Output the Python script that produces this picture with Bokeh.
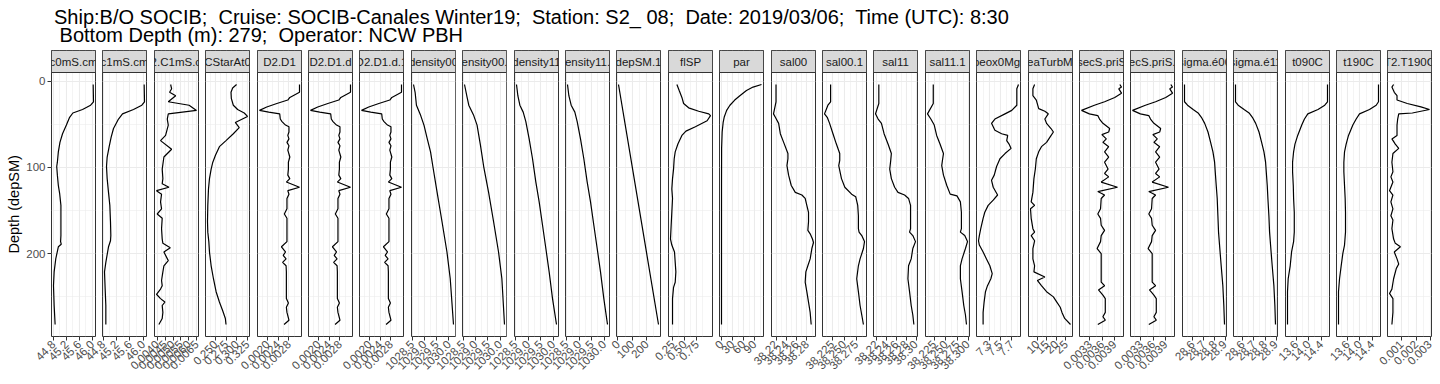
import math
from bokeh.plotting import figure
from bokeh.models import Range1d, FixedTicker, PrintfTickFormatter, Div
from bokeh.layouts import row, column
from bokeh.core.properties import value
from bokeh.embed import file_html
from bokeh.resources import INLINE

# ---------------------------------------------------------------- texts
TITLE_LINE1 = "Ship:B/O SOCIB;  Cruise: SOCIB-Canales Winter19;  Station: S2_ 08;  Date: 2019/03/06;  Time (UTC): 8:30"
TITLE_LINE2 = " Bottom Depth (m): 279;  Operator: NCW PBH"
Y_LABEL = "Depth (depSM)"

# ---------------------------------------------------------------- data (depth in m, values per variable)
depth_c0 = [4, 24, 28, 33, 37, 42, 51, 61, 71, 82, 94, 99, 109, 121, 130, 144, 163, 179, 186, 189, 192, 206, 221, 237, 260, 282]
c0mS_cm = [46.03, 46.04, 45.95, 45.70, 45.40, 45.30, 45.20, 45.08, 45.00, 44.95, 44.92, 44.90, 44.92, 44.95, 44.99, 45.03,
           45.03, 45.03, 45.02, 45.04, 44.95, 44.87, 44.82, 44.80, 44.82, 44.85]

depth_c1 = [4, 24, 28, 33, 38, 44, 55, 65, 76, 88, 99, 113, 129, 144, 163, 179, 185, 192, 210, 221, 241, 260, 282]
c1mS_cm = [46.03, 46.04, 45.96, 45.71, 45.38, 45.26, 45.11, 45.04, 44.98, 44.92, 44.90, 44.92, 44.96, 45.00, 45.02, 45.03,
           45.02, 44.96, 44.88, 44.84, 44.86, 44.88, 44.88]

depth_c2c1 = [4, 9, 13, 17, 24, 28, 34, 38, 44, 51, 63, 69, 79, 88, 102, 113, 119, 123, 127, 131, 140, 148, 154, 159, 171,
              183, 188, 193, 198, 208, 214, 221, 231, 237, 241, 247, 252, 256, 260, 268, 275, 282]
C2_C1mS_cm = [0.004848, 0.004912, 0.004784, 0.005167, 0.004700, 0.006015, 0.006482, 0.004700, 0.004636, 0.004700,
              0.004530, 0.004211, 0.004912, 0.004423, 0.004317, 0.004359, 0.004317, 0.004742, 0.003956, 0.004275,
              0.004211, 0.004275, 0.004000, 0.004317, 0.004275, 0.004317, 0.004359, 0.004826, 0.004423, 0.004700,
              0.004423, 0.004359, 0.004275, 0.004317, 0.004211, 0.003956, 0.004211, 0.004486, 0.004317, 0.004359,
              0.004317, 0.004105]

depth_cstar = [4, 8, 13, 20, 28, 33, 37, 41, 48, 54, 61, 69, 76, 86, 94, 102, 113, 125, 144, 163, 175, 186, 198, 214, 229,
               244, 256, 266, 275, 282]
CStarAt0 = [0.2994, 0.2902, 0.2864, 0.2871, 0.2918, 0.3018, 0.3173, 0.3249, 0.2964, 0.3056, 0.2918, 0.2747, 0.2593,
            0.2501, 0.2439, 0.2400, 0.2361, 0.2338, 0.2322, 0.2315, 0.2322, 0.2346, 0.2361, 0.2400, 0.2454, 0.2516,
            0.2593, 0.2670, 0.2732, 0.2747]

depth_d2d1 = [4, 13, 19, 22, 26, 30, 34, 36, 38, 44, 47, 51, 53, 59, 63, 67, 71, 75, 80, 88, 94, 102, 109, 113, 117, 123,
              127, 131, 136, 148, 154, 159, 175, 186, 192, 198, 202, 206, 210, 214, 221, 241, 252, 257, 262, 268, 277, 282]
D2_D1 = [0.003196, 0.003196, 0.002833, 0.002757, 0.002345, 0.001966, 0.001694, 0.002041, 0.002453, 0.002475, 0.002540,
         0.002670, 0.002800, 0.002800, 0.002757, 0.002800, 0.002725, 0.002800, 0.002757, 0.002833, 0.002779, 0.002779,
         0.002757, 0.002833, 0.002703, 0.003196, 0.002757, 0.002800, 0.002725, 0.002725, 0.002627, 0.002725, 0.002725,
         0.002725, 0.002518, 0.002670, 0.002584, 0.002692, 0.002562, 0.002692, 0.002703, 0.002703, 0.002703, 0.002779,
         0.002703, 0.002725, 0.002800, 0.002617]

depth_dens00 = [4, 13, 28, 40, 51, 67, 82, 99, 129, 163, 198, 229, 282]
density00 = [1028.555, 1028.621, 1028.675, 1028.849, 1028.982, 1029.117, 1029.250, 1029.345, 1029.518, 1029.718,
             1029.919, 1030.053, 1030.186]
depth_dens00_1 = [4, 19, 28, 40, 51, 74, 99, 129, 163, 198, 229, 282]
density00_1 = [1028.555, 1028.661, 1028.728, 1028.929, 1029.063, 1029.198, 1029.331, 1029.530, 1029.732, 1029.932,
               1030.067, 1030.173]
depth_dens11 = [4, 17, 28, 36, 47, 67, 90, 117, 140, 167, 194, 221, 252, 282]
density11 = [1028.538, 1028.592, 1028.672, 1028.804, 1028.909, 1029.041, 1029.175, 1029.307, 1029.439, 1029.573,
             1029.705, 1029.836, 1029.970, 1030.128]
density11_1 = [1028.538, 1028.592, 1028.684, 1028.830, 1028.923, 1029.055, 1029.187, 1029.321, 1029.453, 1029.585,
               1029.718, 1029.850, 1029.982, 1030.128]

depth_depsm = [4, 100, 200, 282]
depSM_1 = [4, 100, 200, 282]

depth_flsp = [4, 11, 19, 26, 31, 35, 38, 40, 46, 53, 58, 63, 73, 82, 90, 102, 113, 125, 136, 152, 167, 183, 190, 198, 210,
              221, 233, 239, 252, 282]
flSP = [0.3364, 0.3848, 0.4404, 0.4759, 0.5797, 0.7884, 0.9970, 1.0325, 0.9624, 0.7191, 0.5242, 0.4404, 0.3575, 0.3019,
        0.2809, 0.2673, 0.2463, 0.2317, 0.2463, 0.2317, 0.2181, 0.2044, 0.2317, 0.2873, 0.3019, 0.3155, 0.3019, 0.2673,
        0.2463, 0.2463]

depth_par = [4, 7, 11, 17, 22, 28, 34, 42, 48, 59, 78, 120, 282]
par = [109, 86, 68, 50, 36, 23, 14, 7.3, 4.5, 1.8, 0.3, 0.05, 0.0]

depth_sal00 = [4, 24, 38, 42, 49, 61, 71, 84, 90, 98, 109, 121, 129, 132, 136, 144, 152, 163, 173, 177, 183, 187, 194, 206,
               214, 221, 233, 244, 256, 268, 282]
sal00 = [38.2199, 38.2199, 38.2150, 38.2186, 38.2250, 38.2283, 38.2348, 38.2431, 38.2431, 38.2412, 38.2444, 38.2496,
         38.2574, 38.2703, 38.2767, 38.2799, 38.2832, 38.2832, 38.2819, 38.2864, 38.2909, 38.2929, 38.2897, 38.2864,
         38.2819, 38.2780, 38.2767, 38.2799, 38.2832, 38.2864, 38.2884]

depth_sal00_1 = [4, 24, 28, 38, 42, 49, 61, 73, 84, 92, 98, 113, 123, 131, 134, 144, 156, 171, 175, 179, 186, 194, 206, 214,
                 229, 244, 260, 271, 282]
sal00_1 = [38.2215, 38.2215, 38.2159, 38.2088, 38.2145, 38.2194, 38.2264, 38.2335, 38.2405, 38.2405, 38.2384, 38.2441,
           38.2511, 38.2652, 38.2737, 38.2779, 38.2793, 38.2793, 38.2807, 38.2863, 38.2920, 38.2898, 38.2828, 38.2793,
           38.2758, 38.2793, 38.2828, 38.2863, 38.2898]

depth_sal11 = [4, 26, 38, 44, 49, 61, 73, 84, 92, 102, 113, 123, 129, 132, 136, 144, 159, 171, 175, 179, 186, 194, 206, 214,
               229, 244, 260, 271, 282]
sal11 = [38.2242, 38.2242, 38.2175, 38.2228, 38.2295, 38.2348, 38.2428, 38.2495, 38.2482, 38.2462, 38.2495, 38.2561,
         38.2629, 38.2762, 38.2842, 38.2882, 38.2882, 38.2882, 38.2862, 38.2928, 38.2982, 38.2928, 38.2895, 38.2842,
         38.2829, 38.2862, 38.2895, 38.2928, 38.2949]

depth_sal11_1 = [4, 26, 38, 44, 51, 63, 73, 84, 92, 98, 109, 121, 131, 133, 140, 152, 171, 175, 179, 186, 194, 206, 214,
                 229, 244, 260, 271, 282]
sal11_1 = [38.2232, 38.2232, 38.2108, 38.2180, 38.2253, 38.2305, 38.2377, 38.2451, 38.2429, 38.2414, 38.2451, 38.2523,
           38.2596, 38.2742, 38.2815, 38.2837, 38.2837, 38.2815, 38.2909, 38.2968, 38.2924, 38.2851, 38.2815, 38.2815,
           38.2851, 38.2888, 38.2924, 38.2946]

depth_oxy = [4, 9, 28, 34, 38, 44, 49, 57, 61, 63, 69, 73, 78, 84, 90, 99, 109, 115, 123, 132, 138, 144, 152, 159, 171, 179,
             185, 190, 198, 206, 214, 223, 229, 237, 244, 256, 268, 282]
sbeox0Mg_L = [7.822, 7.792, 7.792, 7.702, 7.582, 7.402, 7.342, 7.402, 7.522, 7.630, 7.612, 7.654, 7.690, 7.582, 7.492,
              7.432, 7.390, 7.342, 7.372, 7.450, 7.372, 7.282, 7.222, 7.192, 7.150, 7.125, 7.110, 7.125, 7.192, 7.252,
              7.312, 7.354, 7.330, 7.270, 7.234, 7.210, 7.192, 7.192]

depth_turb = [4, 9, 17, 22, 32, 35, 38, 44, 49, 55, 59, 65, 71, 76, 82, 90, 102, 113, 129, 140, 144, 148, 159, 171, 175,
              179, 185, 194, 206, 214, 221, 227, 231, 237, 244, 250, 256, 262, 268, 275, 282]
seaTurbMtr = [8.55, 7.65, 7.65, 9.45, 10.70, 13.95, 15.75, 13.95, 14.85, 17.19, 18.45, 16.65, 14.85, 12.15, 10.70, 9.45,
              8.93, 8.19, 7.65, 6.75, 8.55, 6.39, 6.75, 7.65, 8.55, 6.75, 8.55, 7.65, 7.65, 8.55, 8.19, 13.95, 10.00,
              12.15, 14.85, 18.45, 20.25, 22.05, 22.96, 24.39, 27.45]

depth_secs = [4, 7, 9, 14, 19, 24, 28, 34, 38, 40, 44, 49, 55, 59, 62, 67, 71, 76, 82, 88, 94, 102, 107, 111, 117, 123,
              128, 132, 136, 148, 154, 159, 167, 173, 179, 186, 194, 200, 221, 233, 237, 242, 248, 252, 268, 273, 277, 282]
secS_priS = [0.004030, 0.004071, 0.004005, 0.004071, 0.003906, 0.003658, 0.003409, 0.003094, 0.003286, 0.003492,
             0.003534, 0.003617, 0.003782, 0.003758, 0.003592, 0.003700, 0.003617, 0.003758, 0.003658, 0.003758,
             0.003658, 0.003742, 0.003658, 0.003758, 0.003575, 0.003973, 0.003492, 0.003658, 0.003575, 0.003559,
             0.003492, 0.003559, 0.003575, 0.003658, 0.003575, 0.003559, 0.003476, 0.003575, 0.003575, 0.003575,
             0.003658, 0.003509, 0.003617, 0.003675, 0.003675, 0.003617, 0.003675, 0.003492]

depth_sigma = [4, 24, 28, 33, 37, 42, 49, 59, 71, 82, 94, 105, 121, 136, 156, 175, 190, 214, 237, 260, 282]
sigma_e00 = [28.5263, 28.5263, 28.5537, 28.6043, 28.6489, 28.6787, 28.7085, 28.7383, 28.7620, 28.7829, 28.7979, 28.8037,
             28.8126, 28.8215, 28.8277, 28.8335, 28.8424, 28.8575, 28.8722, 28.8811, 28.8873]
sigma_e11 = [28.5347, 28.5347, 28.5586, 28.6118, 28.6565, 28.6862, 28.7159, 28.7456, 28.7691, 28.7899, 28.8046, 28.8107,
             28.8196, 28.8254, 28.8343, 28.8404, 28.8493, 28.8640, 28.8790, 28.8879, 28.8936]

depth_t0 = [4, 24, 28, 33, 38, 44, 51, 63, 73, 82, 94, 105, 121, 136, 152, 175, 186, 198, 214, 229, 244, 260, 282]
t090C = [14.605, 14.605, 14.517, 14.299, 13.972, 13.864, 13.777, 13.647, 13.559, 13.515, 13.482, 13.482, 13.505, 13.515,
         13.537, 13.537, 13.515, 13.450, 13.406, 13.341, 13.319, 13.319, 13.319]
depth_t1 = [4, 24, 28, 33, 38, 44, 51, 63, 73, 82, 94, 105, 121, 136, 152, 175, 190, 200, 214, 229, 244, 282]
t190C = [14.605, 14.605, 14.529, 14.311, 13.984, 13.875, 13.766, 13.624, 13.547, 13.494, 13.472, 13.472, 13.494, 13.515,
         13.526, 13.526, 13.494, 13.438, 13.385, 13.331, 13.297, 13.297]

depth_t2t1 = [4, 7, 13, 17, 22, 26, 30, 33, 37, 38, 44, 51, 63, 67, 73, 78, 84, 94, 105, 111, 117, 127, 132, 140, 148, 156,
              161, 171, 183, 188, 192, 198, 206, 212, 217, 229, 241, 246, 252, 268, 282]
T2_T190C = [0.000456, 0.000340, 0.000503, 0.000690, 0.000690, 0.001393, 0.002330, 0.002918, 0.001743, 0.000808,
            0.000736, 0.000690, 0.000690, 0.000340, 0.000574, 0.000808, 0.000410, 0.000340, 0.000410, 0.000270,
            0.000410, 0.000175, 0.000410, 0.000270, 0.000410, 0.000270, 0.000410, 0.000340, 0.000456, 0.000574,
            0.000924, 0.000503, 0.000690, 0.000808, 0.000644, 0.000456, 0.000340, 0.000175, 0.000410, 0.000410,
            0.000340]

# ---------------------------------------------------------------- tick values
y_ticks = [0, 100, 200]
ticks_cond = [44.8, 45.2, 45.6, 46.0]
ticks_c2c1 = [0.0040, 0.0045, 0.0050, 0.0055, 0.0060, 0.0065]
ticks_cstar = [0.250, 0.275, 0.300, 0.325]
ticks_d2d1 = [0.0020, 0.0024, 0.0028]
ticks_density = [1028.5, 1029.0, 1029.5, 1030.0]
ticks_depsm = [0, 100, 200]
ticks_flsp = [0.25, 0.50, 0.75]
ticks_par = [0, 30, 60, 90]
ticks_sal00 = [38.22, 38.24, 38.26, 38.28]
ticks_sal00_1 = [38.225, 38.250, 38.275]
ticks_sal11 = [38.22, 38.24, 38.26, 38.28, 38.30]
ticks_sal11_1 = [38.225, 38.250, 38.275, 38.300]
ticks_oxy = [7.3, 7.5, 7.7]
ticks_turb = [10, 15, 20, 25]
ticks_secs = [0.0033, 0.0036, 0.0039]
ticks_sigma = [28.6, 28.7, 28.8, 28.9]
ticks_temp = [13.6, 14.0, 14.4]
ticks_t2t1 = [0.001, 0.002, 0.003]

panels = [
    ("c0mS.cm", depth_c0, c0mS_cm, ticks_cond, "%.1f"),
    ("c1mS.cm", depth_c1, c1mS_cm, ticks_cond, "%.1f"),
    ("C2.C1mS.cm", depth_c2c1, C2_C1mS_cm, ticks_c2c1, "%.4f"),
    ("CStarAt0", depth_cstar, CStarAt0, ticks_cstar, "%.3f"),
    ("D2.D1", depth_d2d1, D2_D1, ticks_d2d1, "%.4f"),
    ("D2.D1.d", depth_d2d1, D2_D1, ticks_d2d1, "%.4f"),
    ("D2.D1.d.1", depth_d2d1, D2_D1, ticks_d2d1, "%.4f"),
    ("density00", depth_dens00, density00, ticks_density, "%.1f"),
    ("density00.1", depth_dens00_1, density00_1, ticks_density, "%.1f"),
    ("density11", depth_dens11, density11, ticks_density, "%.1f"),
    ("density11.1", depth_dens11, density11_1, ticks_density, "%.1f"),
    ("depSM.1", depth_depsm, depSM_1, ticks_depsm, "%.0f"),
    ("flSP", depth_flsp, flSP, ticks_flsp, "%.2f"),
    ("par", depth_par, par, ticks_par, "%.0f"),
    ("sal00", depth_sal00, sal00, ticks_sal00, "%.2f"),
    ("sal00.1", depth_sal00_1, sal00_1, ticks_sal00_1, "%.3f"),
    ("sal11", depth_sal11, sal11, ticks_sal11, "%.2f"),
    ("sal11.1", depth_sal11_1, sal11_1, ticks_sal11_1, "%.3f"),
    ("sbeox0Mg.L", depth_oxy, sbeox0Mg_L, ticks_oxy, "%.1f"),
    ("seaTurbMtr", depth_turb, seaTurbMtr, ticks_turb, "%.0f"),
    ("secS.priS", depth_secs, secS_priS, ticks_secs, "%.4f"),
    ("secS.priS.1", depth_secs, secS_priS, ticks_secs, "%.4f"),
    ("sigma.é00", depth_sigma, sigma_e00, ticks_sigma, "%.1f"),
    ("sigma.é11", depth_sigma, sigma_e11, ticks_sigma, "%.1f"),
    ("t090C", depth_t0, t090C, ticks_temp, "%.1f"),
    ("t190C", depth_t1, t190C, ticks_temp, "%.1f"),
    ("T2.T190C", depth_t2t1, T2_T190C, ticks_t2t1, "%.3f"),
]

# ---------------------------------------------------------------- layout / style
FONT = "Liberation Sans"
FRAME_W = 44
PANEL_H = 264
STRIP_H = 22
FRAME_H = PANEL_H + STRIP_H
TOP_H = 50
Y_AXIS_W = 51
PANEL_STEP = 51.4
LABEL_ROOM = 46
Y_TITLE_OFFSET = 83   # distance (px) from the panel bottom to the start of the y title
BORDER = "#333333"
GRID = "#EBEBEB"


def minor_between(ticks, lo, hi):
    step = ticks[1] - ticks[0]
    cands = [ticks[0] - step / 2] + [t + step / 2 for t in ticks]
    return [c for c in cands if lo <= c <= hi]


all_depths = [d for _, dep, *_ in panels for d in dep]
dmin, dmax = min(all_depths), max(all_depths)
dspan = dmax - dmin
y_bottom = dmax + 0.05 * dspan
y_panel_top = dmin - 0.05 * dspan
y_top = y_panel_top - (y_bottom - y_panel_top) * STRIP_H / PANEL_H
y_minor = minor_between(y_ticks, y_panel_top, y_bottom)

frame_lefts = [Y_AXIS_W + round(PANEL_STEP * i) for i in range(len(panels))]

figs = []
for i, (name, dep, vals, ticks, fmt) in enumerate(panels):
    first = i == 0
    vmin, vmax = min(vals), max(vals)
    xr = vmax - vmin
    x0, x1 = vmin - 0.05 * xr, vmax + 0.05 * xr
    p = figure(frame_width=FRAME_W, frame_height=FRAME_H,
               x_range=Range1d(x0, x1), y_range=Range1d(y_bottom, y_top),
               output_backend="svg", toolbar_location=None,
               title=Y_LABEL if first else None, title_location="left",
               y_axis_location="left" if first else None,
               min_border_left=Y_AXIS_W if first else LABEL_ROOM,
               min_border_right=1, min_border_top=0, min_border_bottom=0,
               background_fill_color="white", border_fill_alpha=0,
               outline_line_color=BORDER, outline_line_width=1)
    if not first:
        prev_right = frame_lefts[i - 1] + FRAME_W + 1
        p.margin = (0, 0, 0, frame_lefts[i] - LABEL_ROOM - prev_right)

    # grids
    p.xgrid.ticker = FixedTicker(ticks=ticks, minor_ticks=minor_between(ticks, x0, x1))
    p.ygrid.ticker = FixedTicker(ticks=y_ticks, minor_ticks=y_minor)
    for g in (p.xgrid[0], p.ygrid[0]):
        g.grid_line_color = GRID
        g.grid_line_width = 1.1
        g.minor_grid_line_color = GRID
        g.minor_grid_line_width = 0.55

    # x axis
    ax = p.xaxis[0]
    ax.ticker = FixedTicker(ticks=ticks, minor_ticks=[])
    ax.formatter = PrintfTickFormatter(format=fmt)
    ax.major_label_orientation = math.pi / 4
    ax.major_label_text_font = FONT
    ax.major_label_text_font_size = "11.5px"
    ax.major_label_text_color = "#4D4D4D"
    ax.major_label_standoff = 2
    ax.axis_line_color = None
    ax.major_tick_line_color = BORDER
    ax.major_tick_in = 0
    ax.major_tick_out = 4
    ax.minor_tick_line_color = None

    if first:
        ay = p.yaxis[0]
        ay.ticker = FixedTicker(ticks=y_ticks, minor_ticks=[])
        ay.major_label_text_font = FONT
        ay.major_label_text_font_size = "11.5px"
        ay.major_label_text_color = "#4D4D4D"
        ay.major_label_standoff = 2
        ay.axis_line_color = None
        ay.major_tick_line_color = BORDER
        ay.major_tick_in = 0
        ay.major_tick_out = 4
        ay.minor_tick_line_color = None
        # y title: centred on the depth panel (below the strip), as in the original
        p.title.align = "left"
        p.title.offset = Y_TITLE_OFFSET
        p.title.standoff = 4
        p.title.text_font = FONT
        p.title.text_font_size = "14.5px"
        p.title.text_font_style = "normal"
        p.title.text_color = "black"

    # strip (facet header) in its own 0..1 ranges on top of the frame
    p.extra_x_ranges = {"strip_x": Range1d(0, 1)}
    p.extra_y_ranges = {"strip_y": Range1d(1 - FRAME_H / STRIP_H, 1)}
    p.quad(left=[0], right=[1], bottom=[0], top=[1], x_range_name="strip_x", y_range_name="strip_y",
           fill_color="#D9D9D9", line_color=BORDER, line_width=1)
    p.text(x=[0.5], y=[0.5], text=[name], x_range_name="strip_x", y_range_name="strip_y",
           text_align="center", text_baseline="middle", text_font=value(FONT),
           text_font_size="11.5px", text_color="#1A1A1A")

    # profile
    p.line(x=vals, y=dep, line_color="black", line_width=1.2)
    figs.append(p)

title_html = ('<div style="font-family:\'Liberation Sans\';font-size:20px;line-height:18px;'
              'white-space:pre;color:#000;margin:8px 0 0 54px;">'
              + TITLE_LINE1 + "<br>" + TITLE_LINE2 + "</div>")
title = Div(text=title_html, width=1430, height=TOP_H, margin=(0, 0, 0, 0))

layout = column(title, row(*figs, spacing=0), spacing=0)

with open("out.html", "w", encoding="utf-8") as f:
    f.write(file_html(layout, INLINE))
